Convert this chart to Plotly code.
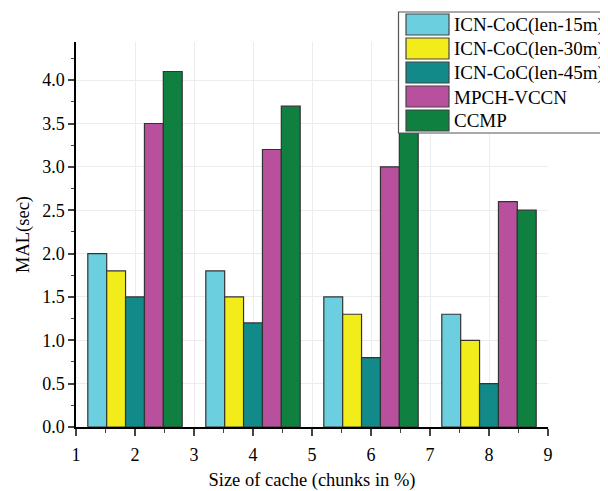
import plotly.graph_objects as go

categories = [2, 4, 6, 8]
series_names = ["ICN-CoC(len-15m)", "ICN-CoC(len-30m)", "ICN-CoC(len-45m)", "MPCH-VCCN", "CCMP"]
icn_15 = [2.0, 1.8, 1.5, 1.3]
icn_30 = [1.8, 1.5, 1.3, 1.0]
icn_45 = [1.5, 1.2, 0.8, 0.5]
mpch_vccn = [3.5, 3.2, 3.0, 2.6]
ccmp = [4.1, 3.7, 3.5, 2.5]
series_values = [icn_15, icn_30, icn_45, mpch_vccn, ccmp]
colors = ["#6ccfe0", "#f2ec1a", "#138a8a", "#b8509e", "#0f8040"]
x_ticks = [1, 2, 3, 4, 5, 6, 7, 8, 9]
y_ticks = [0.0, 0.5, 1.0, 1.5, 2.0, 2.5, 3.0, 3.5, 4.0]

# page body has an 8px margin; figure is sized to fit the 608x491 window
OFF = 8
W, H = 608 - OFF, 491 - OFF
PL, PR, PT, PB = 76, 548, 42, 427   # plot area in screen pixels
L, T = PL - OFF, PT - OFF
pw, ph = PR - PL, PB - PT
R, B = W - L - pw, H - T - ph

def px(xs):
    return (xs - PL) / pw

def py(ys):
    return (PB - ys) / ph

FONT = "Liberation Serif"

fig = go.Figure()
for name, vals, col in zip(series_names, series_values, colors):
    fig.add_trace(go.Bar(x=categories, y=vals, name=name, marker_color=col,
                         marker_line_color="#333333", marker_line_width=1.2,
                         showlegend=False))

# custom legend with large swatches
shapes = [dict(type="rect", xref="paper", yref="paper",
               x0=px(398.5), x1=px(620), y0=py(133), y1=py(12),
               line=dict(color="#555555", width=1.2), fillcolor="white", layer="above")]
annotations = []
for i, (name, col) in enumerate(zip(series_names, colors)):
    top = 14 + i * 24
    shapes.append(dict(type="rect", xref="paper", yref="paper",
                       x0=px(406), x1=px(449), y0=py(top + 21), y1=py(top),
                       line=dict(color="#444444", width=1.2), fillcolor=col, layer="above"))
    annotations.append(dict(xref="paper", yref="paper", x=px(452), y=py(top + 11),
                            xanchor="left", yanchor="middle", text=name, showarrow=False,
                            font=dict(family=FONT, size=19, color="black")))

fig.update_layout(
    width=W, height=H,
    margin=dict(l=L, r=R, t=T, b=B, pad=0),
    plot_bgcolor="white", paper_bgcolor="white",
    barmode="group", bargap=0.2, bargroupgap=0,
    font=dict(family=FONT, size=18, color="black"),
    shapes=shapes, annotations=annotations,
    xaxis=dict(range=[1, 9], tickvals=x_ticks, ticks="outside", ticklen=7, tickwidth=1.5,
               automargin=False, ticklabelstandoff=4,
               showline=True, linecolor="black", linewidth=1.5,
               showgrid=True, gridcolor="#ececec", gridwidth=1, zeroline=False,
               minor=dict(ticks="outside", ticklen=4, tickwidth=1.2, dtick=0.5, showgrid=False),
               title=dict(text="Size of cache (chunks in %)", font=dict(family=FONT, size=18.5), standoff=12),
               tickfont=dict(family=FONT, size=18)),
    yaxis=dict(range=[0, 4.44], tickvals=y_ticks, tickformat=".1f", ticks="outside",
               ticklen=6, tickwidth=1.5, automargin=False,
               showline=True, linecolor="black", linewidth=1.5,
               showgrid=True, gridcolor="#ececec", gridwidth=1, zeroline=False,
               minor=dict(ticks="outside", ticklen=3, tickwidth=1.2, dtick=0.25, showgrid=False),
               title=dict(text="MAL(sec)", font=dict(family=FONT, size=18.5), standoff=8),
               tickfont=dict(family=FONT, size=18)),
)
fig.write_html("out.html")
